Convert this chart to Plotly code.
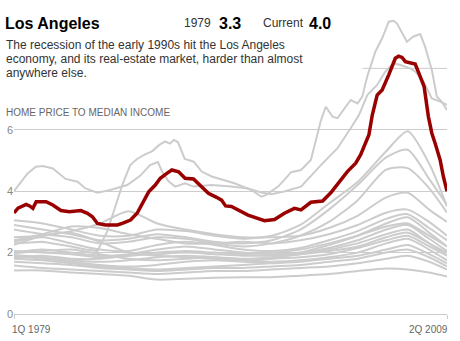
import plotly.graph_objects as go

# ---------------- data ----------------
knot_years = [1979, 1981, 1983, 1985, 1987, 1989, 1991, 1993, 1995, 1997,
              1999, 2001, 2003, 2005, 2006.5, 2008, 2009.25]

gray_s1 = [3.05, 2.95, 2.75, 2.55, 2.55, 2.75, 2.7, 2.55, 2.45, 2.55, 2.9, 3.6, 4.3, 5.3, 5.95, 4.9, 3.5]
gray_s2 = [2.9, 2.75, 2.6, 2.4, 2.45, 2.6, 2.5, 2.35, 2.3, 2.4, 2.75, 3.4, 4.2, 5.1, 5.35, 4.4, 3.55]
gray_s3 = [2.75, 2.6, 2.5, 2.3, 2.35, 2.5, 2.45, 2.3, 2.2, 2.3, 2.55, 3.0, 3.7, 4.7, 4.75, 4.1, 3.3]
gray_s4 = [2.5, 2.55, 2.7, 2.95, 3.35, 2.95, 2.75, 2.6, 2.5, 2.5, 2.55, 2.8, 3.2, 3.8, 3.95, 3.4, 3.0]
gray_s5 = [2.4, 2.6, 2.85, 2.8, 2.6, 2.45, 2.3, 2.3, 2.35, 2.3, 2.4, 2.6, 2.9, 3.3, 3.4, 3.0, 2.55]
gray_s6 = [2.35, 2.5, 2.3, 2.1, 2.05, 2.25, 2.35, 2.25, 2.1, 2.05, 2.15, 2.4, 2.7, 3.1, 3.25, 2.8, 2.4]
gray_s7 = [2.25, 2.55, 2.65, 2.35, 2.0, 1.9, 1.85, 1.8, 1.75, 1.8, 2.0, 2.25, 2.55, 2.95, 3.15, 2.65, 2.2]
gray_s8 = [2.05, 2.0, 1.95, 1.85, 1.9, 2.0, 2.05, 2.0, 1.95, 2.0, 2.1, 2.3, 2.55, 2.85, 2.95, 2.55, 2.2]
gray_s9 = [1.98, 2.05, 2.1, 1.95, 1.8, 1.75, 1.8, 1.85, 1.8, 1.85, 1.95, 2.1, 2.3, 2.6, 2.75, 2.3, 2.0]
gray_s10 = [1.92, 1.85, 1.75, 1.7, 1.75, 1.85, 1.9, 1.85, 1.75, 1.8, 1.85, 1.95, 2.15, 2.4, 2.55, 2.2, 1.9]
gray_s11 = [1.87, 1.8, 1.7, 1.6, 1.55, 1.6, 1.7, 1.75, 1.7, 1.7, 1.75, 1.85, 2.0, 2.3, 2.45, 2.1, 1.75]
gray_s12 = [1.8, 1.75, 1.65, 1.55, 1.5, 1.45, 1.5, 1.55, 1.6, 1.65, 1.7, 1.8, 1.9, 2.1, 2.25, 1.95, 1.65]
gray_s13 = [1.7, 1.65, 1.6, 1.5, 1.45, 1.4, 1.45, 1.5, 1.5, 1.55, 1.6, 1.7, 1.8, 2.0, 2.1, 1.85, 1.55]
gray_s14 = [1.58, 1.5, 1.45, 1.4, 1.35, 1.3, 1.35, 1.4, 1.4, 1.45, 1.5, 1.55, 1.65, 1.8, 1.9, 1.7, 1.45]
gray_s15 = [1.42, 1.42, 1.35, 1.3, 1.25, 1.12, 1.15, 1.18, 1.2, 1.2, 1.25, 1.3, 1.4, 1.48, 1.45, 1.35, 1.22]
gray_s16 = [2.0, 2.1, 2.0, 1.9, 1.95, 2.1, 2.2, 2.1, 2.0, 1.95, 2.0, 2.15, 2.4, 2.75, 2.9, 2.45, 2.05]
gray_s17 = [1.85, 1.9, 1.8, 1.8, 1.9, 1.95, 2.0, 1.95, 1.9, 1.9, 1.95, 2.05, 2.2, 2.5, 2.65, 2.3, 1.9]

top_years = [1979, 1981, 1983, 1984.0, 1984.83, 1985.52, 1986.08, 1986.56, 1987.12, 1987.60,
             1988.16, 1988.64, 1989.13, 1989.55, 1989.89, 1990.17, 1990.45, 1990.93, 1991.56,
             1992.11, 1992.81, 1994.40, 1995.58, 1996.28, 1996.62, 1997.45, 1997.87, 1998.36,
             1999.05, 1999.74, 2000.21, 2000.44, 2000.78, 2001.25, 2001.60, 2002.52, 2003.00,
             2003.33, 2003.68, 2004.25, 2004.72, 2005.18, 2005.52, 2005.76, 2006.45, 2006.91,
             2007.38, 2007.72, 2008.19, 2008.54, 2008.88, 2009.25]
top_vals = [2.3, 2.35, 2.2, 2.1, 2.05, 2.7, 3.5, 4.2, 4.85, 5.05,
            5.2, 5.3, 5.5, 5.62, 5.55, 5.67, 5.6, 5.05, 4.96,
            4.64, 4.48, 4.26, 4.04, 3.82, 3.88, 4.15, 4.36, 4.62,
            4.69, 5.02, 5.88, 6.3, 6.75, 6.43, 6.38, 6.97, 6.86,
            7.08, 7.74, 8.55, 8.98, 9.52, 9.55, 9.46, 8.87, 9.04,
            9.12, 8.71, 7.95, 7.08, 6.92, 6.64]

second_years = [1979.0, 1979.95, 1980.53, 1981.01, 1981.71, 1982.61, 1983.44, 1984.0, 1984.83,
                1985.73, 1986.91, 1987.81, 1988.51, 1989.06, 1989.34, 1989.80, 1990.26, 1990.95,
                1991.54, 1992.81, 1994.19, 1995.35, 1996.28, 1996.97, 1997.87, 1999.05, 2000.44,
                2001.60, 2002.52, 2003.10, 2003.68, 2004.37, 2004.95, 2005.52, 2005.99, 2006.68,
                2007.03, 2007.61, 2008.19, 2008.77, 2009.25]
second_vals = [4.0, 4.58, 4.8, 4.82, 4.74, 4.4, 4.31, 4.09, 3.95,
               4.04, 4.2, 4.5, 4.85, 4.95, 4.64, 4.32, 4.15, 4.26,
               4.15, 4.2, 4.15, 4.09, 3.96, 3.9, 3.99, 4.15, 4.85,
               5.4, 6.05, 6.48, 7.13, 7.46, 7.9, 8.17, 8.11, 8.0,
               7.9, 7.57, 7.02, 6.92, 6.81]

la_years = [1979.00, 1979.28, 1979.85, 1980.09, 1980.32, 1980.55, 1981.24, 1981.71, 1982.28,
            1982.86, 1983.67, 1984.13, 1984.48, 1984.83, 1985.38, 1986.22, 1986.56, 1987.14,
            1987.60, 1987.95, 1988.41, 1988.87, 1989.22, 1989.68, 1990.03, 1990.50, 1990.95,
            1991.54, 1992.11, 1992.58, 1993.15, 1993.50, 1993.78, 1994.19, 1995.35, 1996.50,
            1997.20, 1997.89, 1998.59, 1999.05, 1999.74, 2000.56,
            2001.13, 2001.83, 2002.29, 2002.87, 2003.21, 2003.79, 2004.03, 2004.37, 2004.72,
            2005.18, 2005.64, 2005.87, 2006.11, 2006.34, 2006.68, 2007.03, 2007.38, 2007.65,
            2007.95, 2008.19, 2008.42, 2008.77, 2009.00, 2009.25]
la_vals = [3.29, 3.45, 3.57, 3.52, 3.44, 3.66, 3.66, 3.55, 3.37,
           3.33, 3.37, 3.28, 3.17, 2.95, 2.90, 2.90, 2.95, 3.06,
           3.28, 3.60, 3.98, 4.20, 4.42, 4.58, 4.69, 4.63, 4.42,
           4.40, 4.15, 3.93, 3.80, 3.71, 3.52, 3.50, 3.22, 3.04,
           3.08, 3.28, 3.44, 3.39, 3.64, 3.68,
           3.95, 4.36, 4.64, 4.91, 5.18, 5.83, 6.48, 7.13, 7.30,
           7.79, 8.33, 8.40, 8.36, 8.22, 8.19, 8.14, 7.73, 7.41,
           6.43, 5.89, 5.56, 5.02, 4.47, 4.00]

y_tick_vals = [0, 2, 4, 6]
y_tick_text = ["0", "2", "4", "6"]
x_tick_vals = [1979, 2009.25]
x_tick_text = ["1Q 1979", "2Q 2009"]

# ---------------- figure ----------------
W, H = 460, 341
ML, MR, MT, MB = 11, 13, 7, 27
PW, PH = W - ML - MR, H - MT - MB


def px(x):
    return (x - ML) / PW


def py(y):
    return (H - MB - y) / PH


GRAY = "#cccccc"
RED = "#990000"
FONT = "Arial, Liberation Sans, sans-serif"

fig = go.Figure()

knot_series = [gray_s1, gray_s2, gray_s3, gray_s4, gray_s5, gray_s6, gray_s7, gray_s8, gray_s9,
               gray_s10, gray_s11, gray_s12, gray_s13, gray_s14, gray_s15, gray_s16, gray_s17]
for s in knot_series:
    fig.add_trace(go.Scatter(x=knot_years, y=s, mode="lines",
                             line=dict(color=GRAY, width=2, shape="spline", smoothing=0.7),
                             hoverinfo="skip", showlegend=False))

for xs, ys in [(second_years, second_vals), (top_years, top_vals)]:
    fig.add_trace(go.Scatter(x=xs, y=ys, mode="lines",
                             line=dict(color=GRAY, width=2),
                             hoverinfo="skip", showlegend=False))

fig.add_trace(go.Scatter(x=la_years, y=la_vals, mode="lines",
                         line=dict(color=RED, width=3.5),
                         hoverinfo="skip", showlegend=False))

# partial 8 gridline (hidden behind text block in original)
fig.add_shape(type="line", xref="x", yref="y", x0=2003.35, x1=2009.25, y0=8, y1=8,
              line=dict(color=GRAY, width=1), layer="below")

fig.update_layout(
    width=W, height=H,
    margin=dict(l=ML, r=MR, t=MT, b=MB, pad=0),
    paper_bgcolor="white", plot_bgcolor="white",
    font=dict(family=FONT, color="#333"),
    xaxis=dict(range=[1979, 2009.25], showgrid=False, zeroline=False,
               showline=True, linecolor=GRAY, linewidth=1,
               tickvals=x_tick_vals, ticks="outside", ticklen=4, tickcolor=GRAY,
               showticklabels=False, fixedrange=True),
    yaxis=dict(range=[0, 10], showgrid=True, gridcolor=GRAY, gridwidth=1,
               zeroline=False, showline=False, tickvals=y_tick_vals, ticktext=y_tick_text,
               ticks="", tickfont=dict(size=11, color="#888"), fixedrange=True),
)

ann = []
ann.append(dict(text="<b>Los Angeles</b>", x=px(0), y=py(23), font=dict(size=16, color="#000")))
ann.append(dict(text="1979", x=px(180), y=py(22.5), font=dict(size=12, color="#333")))
ann.append(dict(text="<b>3.3</b>", x=px(215.5), y=py(23), font=dict(size=16, color="#000")))
ann.append(dict(text="Current", x=px(260), y=py(22.5), font=dict(size=12, color="#333")))
ann.append(dict(text="<b>4.0</b>", x=px(306.5), y=py(23), font=dict(size=16, color="#000")))
desc = ["The recession of the early 1990s hit the Los Angeles",
        "economy, and its real-estate market, harder than almost",
        "anywhere else."]
for i, line in enumerate(desc):
    ann.append(dict(text=line, x=px(0.5), y=py(45 + i * 13.8), font=dict(size=12, color="#333")))
ann.append(dict(text="HOME PRICE TO MEDIAN INCOME", x=px(0.5), y=py(112),
                font=dict(size=10, color="#666")))
for a in ann:
    a.update(xref="paper", yref="paper", xanchor="left", yanchor="middle", showarrow=False)

ann.append(dict(text=x_tick_text[0], x=px(6.5), y=py(329), xref="paper", yref="paper",
                xanchor="left", yanchor="middle", showarrow=False,
                font=dict(size=10, color="#666")))
ann.append(dict(text=x_tick_text[1], x=px(450), y=py(329), xref="paper", yref="paper",
                xanchor="right", yanchor="middle", showarrow=False,
                font=dict(size=10, color="#666")))
fig.update_layout(annotations=ann)

fig.write_html("out.html")
